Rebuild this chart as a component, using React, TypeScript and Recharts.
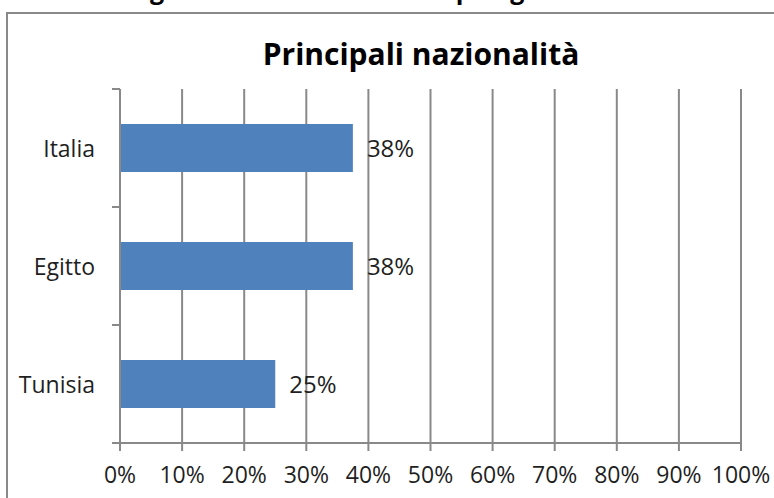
import { BarChart, Bar, XAxis, YAxis, CartesianGrid, LabelList } from "recharts";

const countries = ["Italia", "Egitto", "Tunisia"];
const shares = [37.5, 37.5, 25];
const percentTicks = [0, 10, 20, 30, 40, 50, 60, 70, 80, 90, 100];

const rows = countries.map((name, i) => ({ name, share: shares[i] }));

const FONT = "'Open Sans', sans-serif";
const GRID = "#898989";
const TEXT = "#1f1f1f";

// plot box inside the 774x498 chart
const TOP = 89;
const BOTTOM = 443;
const BAND = (BOTTOM - TOP) / countries.length;

function CountryTick(props: any) {
  const { x, y, payload, index } = props;
  const last = index === countries.length - 1;
  return (
    <g>
      <line x1={x - 8} x2={x} y1={y - BAND / 2} y2={y - BAND / 2} stroke={GRID} strokeWidth={2} />
      {last && (
        <line x1={x - 8} x2={x} y1={y + BAND / 2} y2={y + BAND / 2} stroke={GRID} strokeWidth={2} />
      )}
      <text
        x={x - 25}
        y={y + 1}
        dy="0.35em"
        textAnchor="end"
        fontFamily={FONT}
        fontSize={23}
        fill={TEXT}
      >
        {payload.value}
      </text>
    </g>
  );
}

export default function App() {
  return (
    <div
      style={{
        position: "absolute",
        left: 0,
        top: 0,
        width: 774,
        height: 498,
        overflow: "hidden",
        background: "#fff",
      }}
    >
      {/* outer title, cut off by the crop like in the source */}
      <div
        style={{
          position: "absolute",
          left: 0,
          width: 776,
          top: -28,
          textAlign: "center",
          fontFamily: FONT,
          fontWeight: 700,
          fontSize: 25,
          lineHeight: "34px",
          color: "#000",
        }}
      >
        Ingressi nell'anno 2023 e tipologie di reato
      </div>
      <div
        style={{
          position: "absolute",
          left: 6,
          top: 12,
          width: 900,
          height: 600,
          borderTop: `2px solid ${GRID}`,
          borderLeft: `2px solid ${GRID}`,
        }}
      />
      <div
        style={{
          position: "absolute",
          left: 0,
          width: 842,
          top: 33,
          textAlign: "center",
          fontFamily: FONT,
          fontWeight: 700,
          fontSize: 30,
          lineHeight: "42px",
          color: "#000",
        }}
      >
        Principali nazionalità
      </div>
      <div style={{ position: "absolute", left: 0, top: 0 }}>
        <BarChart
          width={774}
          height={498}
          data={rows}
          layout="vertical"
          margin={{ top: TOP, right: 33, bottom: 0, left: 0 }}
          barCategoryGap={35}
        >
          <CartesianGrid vertical horizontal={false} stroke={GRID} strokeWidth={2} />
          <XAxis
            type="number"
            domain={[0, 100]}
            ticks={percentTicks}
            interval={0}
            tickFormatter={(v: number) => `${v}%`}
            height={498 - BOTTOM}
            tickSize={8}
            tickMargin={16}
            axisLine={{ stroke: GRID, strokeWidth: 2 }}
            tickLine={{ stroke: GRID, strokeWidth: 2 }}
            tick={{ fontFamily: FONT, fontSize: 23, fill: TEXT }}
          />
          <YAxis
            type="category"
            dataKey="name"
            width={120}
            tickSize={0}
            tickMargin={0}
            tickLine={false}
            axisLine={{ stroke: GRID, strokeWidth: 2 }}
            tick={<CountryTick />}
          />
          <Bar dataKey="share" fill="#4f81bd" isAnimationActive={false}>
            <LabelList
              dataKey="share"
              position="right"
              offset={14}
              formatter={(v: any) => `${Math.round(Number(v))}%`}
              style={{ fontFamily: FONT, fontSize: 24, fill: TEXT }}
            />
          </Bar>
        </BarChart>
      </div>
    </div>
  );
}
